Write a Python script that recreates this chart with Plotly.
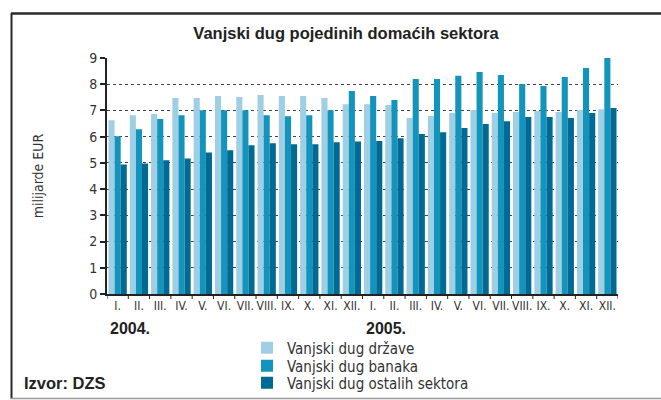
import plotly.graph_objects as go

months = ["I.", "II.", "III.", "IV.", "V.", "VI.", "VII.", "VIII.", "IX.", "X.", "XI.", "XII."]
tick_labels = months + months
years = ["2004.", "2005."]

drzava = [6.63, 6.82, 6.86, 7.47, 7.47, 7.55, 7.51, 7.59, 7.55, 7.55, 7.47, 7.24,
          7.24, 7.21, 6.71, 6.79, 6.90, 7.02, 6.90, 6.94, 6.98, 6.94, 7.02, 7.05]
banke = [6.02, 6.28, 6.67, 6.82, 7.01, 7.01, 7.01, 6.82, 6.78, 6.82, 7.01, 7.74,
         7.55, 7.40, 8.20, 8.20, 8.32, 8.47, 8.35, 8.01, 7.93, 8.28, 8.62, 9.00]
ostali = [4.94, 4.98, 5.10, 5.17, 5.40, 5.48, 5.67, 5.75, 5.71, 5.71, 5.79, 5.82,
          5.83, 5.94, 6.10, 6.17, 6.33, 6.48, 6.59, 6.75, 6.75, 6.71, 6.90, 7.09]

series = [
    ("Vanjski dug države", drzava, "#9fcfe5"),
    ("Vanjski dug banaka", banke, "#1394bd"),
    ("Vanjski dug ostalih sektora", ostali, "#006a94"),
]

L, R, T, B = 107, 618, 58, 294
W, H = 661, 400
pw, ph = R - L, B - T
def px(v):
    return (v - L) / pw
def py(v):
    return (B - v) / ph

x = list(range(len(tick_labels)))
fig = go.Figure()
legend_names = ["legend", "legend2", "legend3"]
legend_y = [348, 366, 383]
for (name, vals, col), lg in zip(series, legend_names):
    fig.add_trace(go.Bar(x=x, y=vals, name=name, legend=lg,
                         marker=dict(color=col, line=dict(width=0))))

legend_common = dict(xanchor="left", yanchor="middle", font=dict(size=15, color="#333333"),
                     bgcolor="rgba(0,0,0,0)", itemwidth=30, borderwidth=0)
LX = 247

fig.update_layout(
    width=W, height=H,
    margin=dict(l=L, r=W - R, t=T, b=H - B, pad=0, autoexpand=False),
    paper_bgcolor="white", plot_bgcolor="white",
    barmode="group", bargap=0.14, bargroupgap=0,
    font=dict(family="Liberation Sans Narrow, DejaVu Sans Condensed, sans-serif", color="#333333"),
    showlegend=True,
    legend=dict(x=px(LX), y=py(legend_y[0]), **legend_common),
    legend2=dict(x=px(LX), y=py(legend_y[1]), **legend_common),
    legend3=dict(x=px(LX), y=py(legend_y[2]), **legend_common),
    title=dict(text="<b>Vanjski dug pojedinih domaćih sektora</b>", xref="container", yref="container",
               x=346 / W, xanchor="center", y=1 - 33 / H, yanchor="middle",
               font=dict(size=16.5, color="#222222", family="Liberation Sans, DejaVu Sans, sans-serif")),
)
fig.update_xaxes(
    range=[-0.5, 23.5], tickmode="array", tickvals=x, ticktext=tick_labels,
    tickfont=dict(size=12, color="#333333"), ticks="", showgrid=False,
    showline=True, linecolor="#222222", linewidth=2, zeroline=False,
)
fig.update_yaxes(
    range=[0, 9], dtick=1, tickfont=dict(size=14, color="#333333"),
    ticks="outside", ticklen=5, tickcolor="#222222", tickwidth=1.5,
    showline=True, linecolor="#222222", linewidth=2,
    showgrid=True, gridcolor="#444444", griddash="dot", gridwidth=1, zeroline=False,
    title=dict(text="milijarde EUR", font=dict(size=14, color="#333333"), standoff=42),
)
for i in range(25):
    fig.add_shape(type="line", xref="x", yref="paper", x0=i - 0.5, x1=i - 0.5,
                  y0=0, y1=-5 / ph, line=dict(color="#222222", width=1))
# frame: top, left, bottom
fig.add_shape(type="line", xref="paper", yref="paper", x0=px(11), x1=px(661),
              y0=py(13.5), y1=py(13.5), line=dict(color="#2a2a2a", width=2.5), layer="below")
fig.add_shape(type="line", xref="paper", yref="paper", x0=px(11.5), x1=px(11.5),
              y0=py(13), y1=py(399), line=dict(color="#2a2a2a", width=2), layer="below")
fig.add_shape(type="line", xref="paper", yref="paper", x0=px(11), x1=px(661),
              y0=py(398.5), y1=py(398.5), line=dict(color="#999999", width=1.5), layer="below")
for i, yr in enumerate(years):
    fig.add_annotation(text="<b>" + yr + "</b>", xref="x", yref="paper", x=12 * i - 0.45,
                       y=py(328), xanchor="left", yanchor="middle", showarrow=False,
                       font=dict(size=16, color="#222222", family="Liberation Sans, DejaVu Sans, sans-serif"))
fig.add_annotation(text="<b>Izvor: DZS</b>", xref="paper", yref="paper", x=px(22), y=py(383),
                   xanchor="left", yanchor="middle", showarrow=False,
                   font=dict(size=16.5, color="#222222", family="Liberation Sans, DejaVu Sans, sans-serif"))
fig.write_html("out.html", config={"displayModeBar": False},
               post_script="document.body.style.margin='0';document.body.style.overflow='hidden';")
